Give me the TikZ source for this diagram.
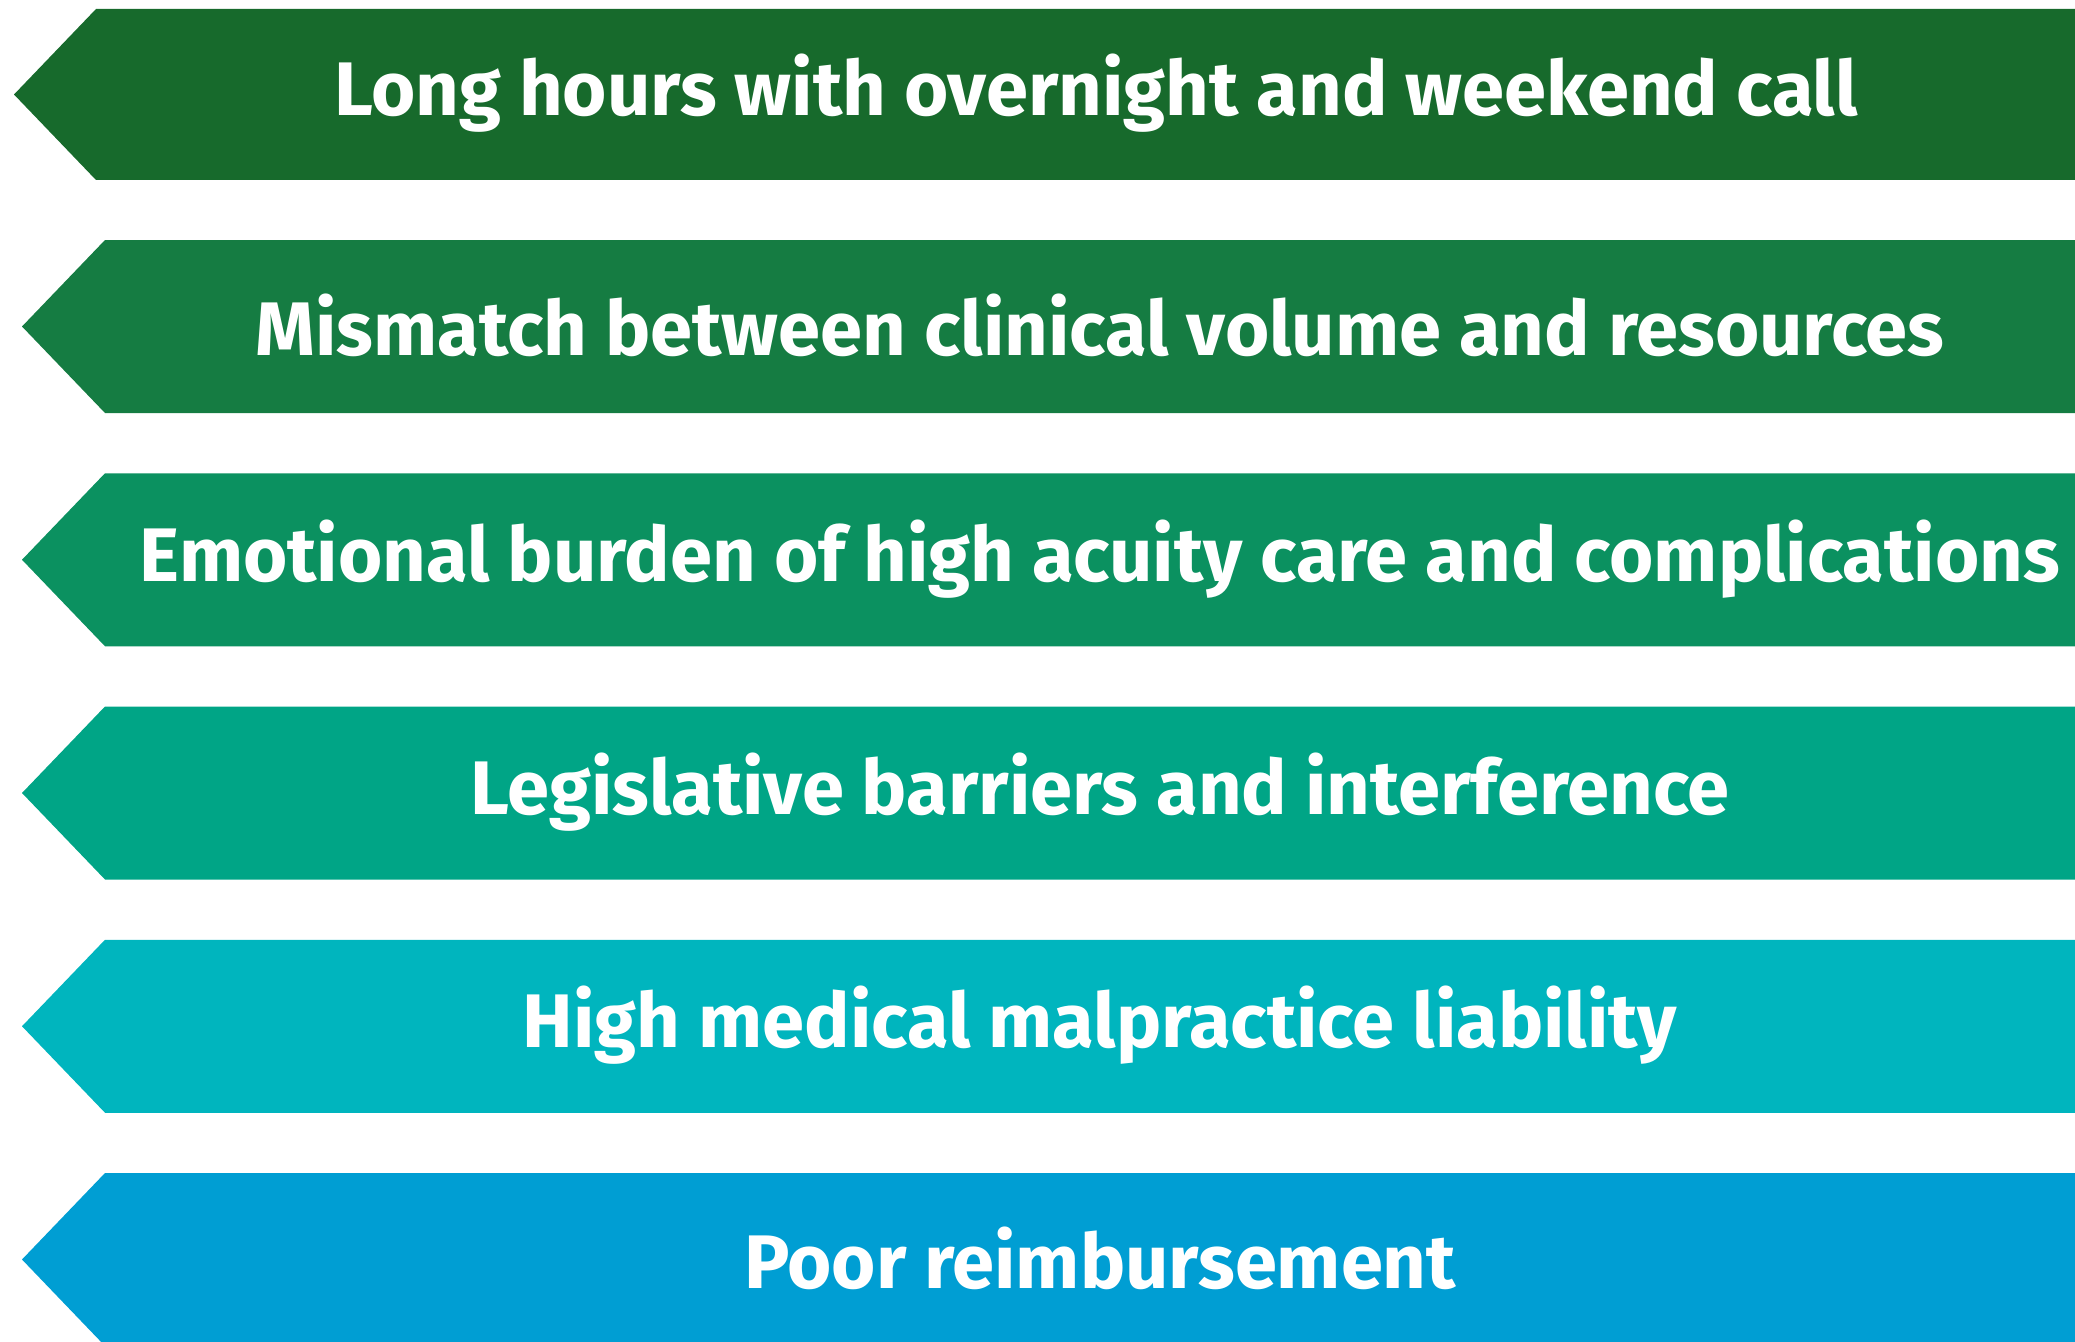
\documentclass[tikz,border=0pt]{standalone}
\usepackage{fontspec}
\setmainfont{Fira Sans}
\definecolor{bandA}{HTML}{176A2C}
\definecolor{bandB}{HTML}{157C42}
\definecolor{bandC}{HTML}{0B9160}
\definecolor{bandD}{HTML}{00A586}
\definecolor{bandE}{HTML}{00B5BE}
\definecolor{bandF}{HTML}{009ED3}
\tikzset{label/.style={text=white,yshift=0.01cm,font=\bfseries\fontsize{21.6}{26}\selectfont}}
\begin{document}
\begin{tikzpicture}
 \useasboundingbox (0,0) rectangle (20.75,13.41);
 \clip (0,0) rectangle (20.75,13.41);
 \fill[bandA](21,13.32)--(0.96,13.32)--(0.14,12.465)--(0.96,11.61)--(21,11.61)--cycle;
 \fill[bandB](21,11.01)--(1.05,11.01)--(0.22,10.145)--(1.05,9.28)--(21,9.28)--cycle;
 \fill[bandC](21,8.6775)--(1.05,8.6775)--(0.22,7.8125)--(1.05,6.9475)--(21,6.9475)--cycle;
 \fill[bandD](21,6.345)--(1.05,6.345)--(0.22,5.48)--(1.05,4.615)--(21,4.615)--cycle;
 \fill[bandE](21,4.0125)--(1.05,4.0125)--(0.22,3.1475)--(1.05,2.2825)--(21,2.2825)--cycle;
 \fill[bandF](21,1.68)--(1.05,1.68)--(0.22,0.815)--(1.05,-0.05)--(21,-0.05)--cycle;
 \node[label] (hours) at (10.96,12.465) {Long hours with overnight and weekend call};
 \node[label] (volume) at (11.0,10.145) {Mismatch between clinical volume and resources};
 \node[label] (burden) at (11.0,7.8125) {Emotional burden of high acuity care and complications};
 \node[label] (law) at (11.0,5.48) {Legislative barriers and interference};
 \node[label] (liability) at (11.0,3.1475) {High medical malpractice liability};
 \node[label] (pay) at (11.0,0.815) {Poor reimbursement};
\end{tikzpicture}
\end{document}
